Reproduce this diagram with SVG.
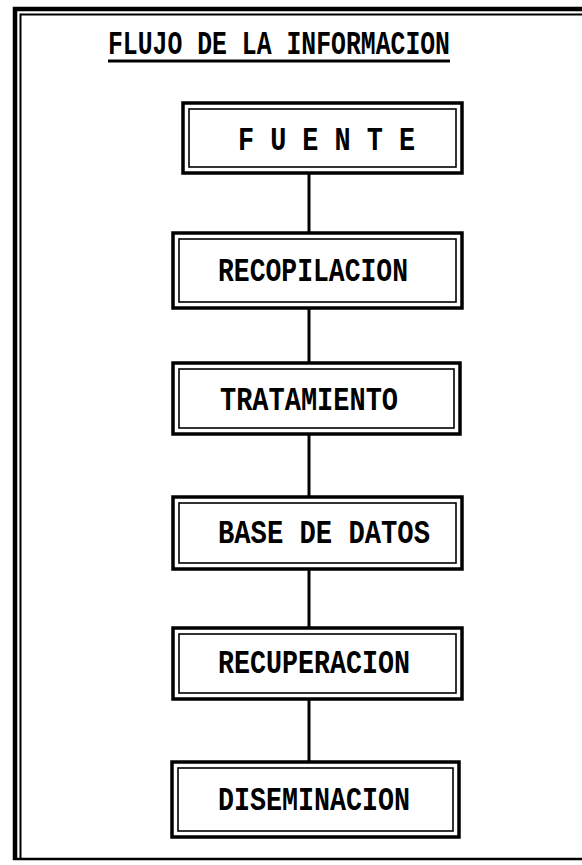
<svg xmlns="http://www.w3.org/2000/svg" width="582" height="865" viewBox="0 0 582 865">
<style>
.o{fill:none;stroke:#000;stroke-width:3.5}
.i{fill:none;stroke:#000;stroke-width:1.6}
.t{font-family:"Liberation Mono","DejaVu Sans Mono",monospace;font-weight:bold;font-size:26px;fill:#000}
.c{stroke:#000;stroke-width:3;fill:none}
</style>
<rect width="582" height="865" fill="#fff"/>
<g id="frame">
<path d="M15 860 V9 H582" fill="none" stroke="#000" stroke-width="4.5"/>
<path d="M20.5 860 V14.5 H582" fill="none" stroke="#000" stroke-width="2"/>
<line x1="13" y1="859" x2="582" y2="859" stroke="#000" stroke-width="2.5"/>
</g>
<g id="title">
<text class="t" x="108" y="55" textLength="342" lengthAdjust="spacingAndGlyphs" transform="translate(0,-17) scale(1,1.3)" style="font-size:25px">FLUJO DE LA INFORMACION</text>
<line x1="108" y1="61" x2="450" y2="61" stroke="#000" stroke-width="3"/>
</g>
<g id="connectors">
<line class="c" x1="309" y1="174" x2="309" y2="234"/>
<line class="c" x1="309" y1="308" x2="309" y2="364"/>
<line class="c" x1="309" y1="434" x2="309" y2="498"/>
<line class="c" x1="309" y1="569" x2="309" y2="629"/>
<line class="c" x1="309" y1="699" x2="309" y2="763"/>
</g>
<g id="fuente">
<rect class="o" x="183" y="103" width="279" height="70"/>
<rect class="i" x="189" y="109" width="267" height="58"/>
<text class="t" x="238" y="150" textLength="177" lengthAdjust="spacingAndGlyphs" transform="translate(0,-45) scale(1,1.3)">F U E N T E</text>
</g>
<g id="recopilacion">
<rect class="o" x="173" y="233" width="289" height="75"/>
<rect class="i" x="179" y="239" width="277" height="63"/>
<text class="t" x="218" y="281" textLength="190" lengthAdjust="spacingAndGlyphs" transform="translate(0,-84.3) scale(1,1.3)">RECOPILACION</text>
</g>
<g id="tratamiento">
<rect class="o" x="173" y="363" width="287" height="71"/>
<rect class="i" x="179" y="369" width="275" height="59"/>
<text class="t" x="220" y="410" textLength="178" lengthAdjust="spacingAndGlyphs" transform="translate(0,-123) scale(1,1.3)">TRATAMIENTO</text>
</g>
<g id="base">
<rect class="o" x="173" y="497" width="289" height="72"/>
<rect class="i" x="179" y="503" width="277" height="60"/>
<text class="t" x="218" y="543" textLength="212" lengthAdjust="spacingAndGlyphs" transform="translate(0,-162.9) scale(1,1.3)">BASE DE DATOS</text>
</g>
<g id="recuperacion">
<rect class="o" x="173" y="628" width="289" height="71"/>
<rect class="i" x="179" y="634" width="277" height="59"/>
<text class="t" x="218" y="673" textLength="192" lengthAdjust="spacingAndGlyphs" transform="translate(0,-201.9) scale(1,1.3)">RECUPERACION</text>
</g>
<g id="diseminacion">
<rect class="o" x="172" y="762" width="287" height="75"/>
<rect class="i" x="178" y="768" width="275" height="63"/>
<text class="t" x="218" y="810" textLength="192" lengthAdjust="spacingAndGlyphs" transform="translate(0,-243) scale(1,1.3)">DISEMINACION</text>
</g>
</svg>
